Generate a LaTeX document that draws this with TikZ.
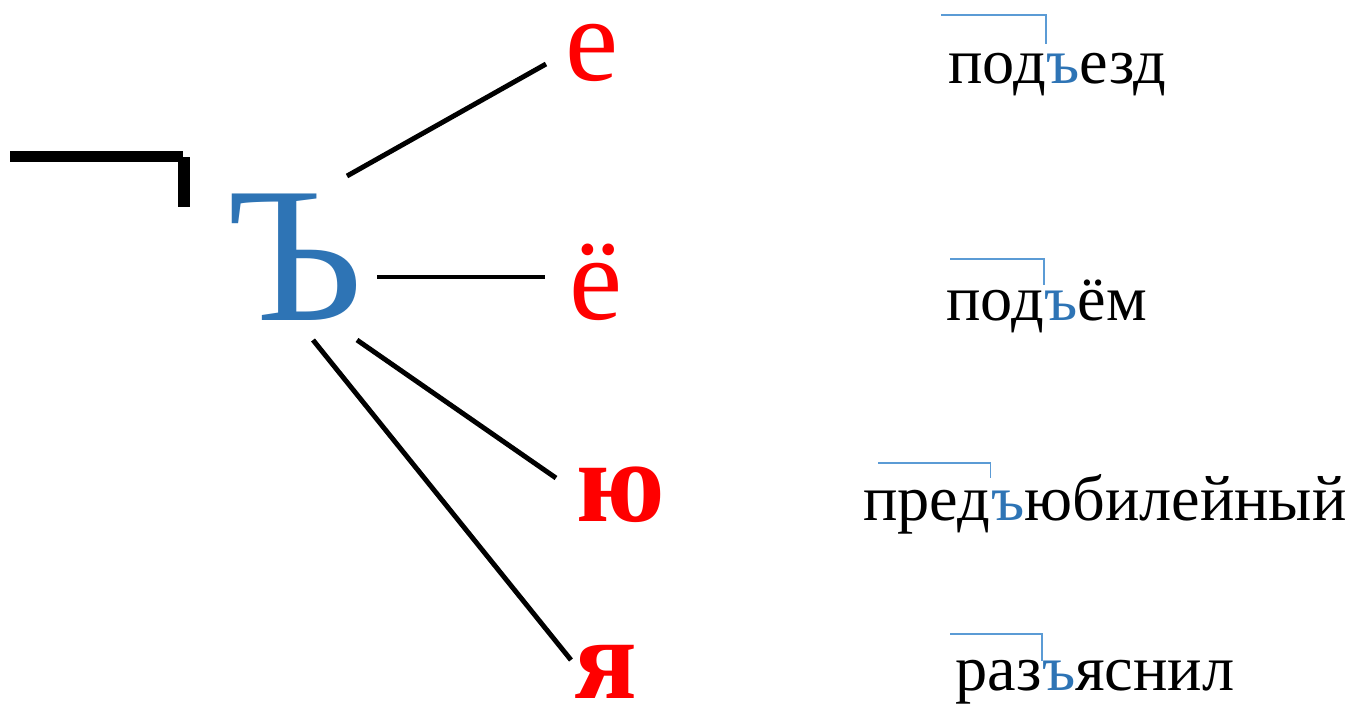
\documentclass[tikz,border=0pt]{standalone}
\usepackage{fontspec}
\setmainfont{Liberation Serif}
\usetikzlibrary{calc}
\definecolor{hardblue}{HTML}{2E74B5}
\definecolor{markblue}{HTML}{5B9BD5}
\definecolor{vowelred}{HTML}{FF0000}

\begin{document}
\begin{tikzpicture}[x=0.02cm, y=-0.02cm,
    bigsign/.style={text=hardblue, inner sep=0pt, anchor=base west, font=\fontsize{110}{110}\selectfont},
    vowel/.style={text=vowelred, inner sep=0pt, anchor=base west, font=\fontsize{68}{68}\selectfont},
    boldvowel/.style={vowel, font=\fontsize{66}{66}\selectfont\bfseries},
    word/.style={inner sep=0pt, anchor=base west, font=\fontsize{36.6}{37}\selectfont},
    link/.style={line width=2.8pt},
    prefixmark/.style={draw=markblue, line width=0.8pt}]
    \useasboundingbox (0,0) rectangle (1349,708);

    % corner sign
    \fill (10,151) rectangle (183,162);
    \fill (178,157) rectangle (190,207);

    % hard sign and the vowels after it
    \node[bigsign] (hard) at (226,320) {Ъ};
    \node[vowel] (ve) at (565,80) {е};
    \node[vowel] (vyo) at (569,319) {ё};
    \node[boldvowel] (vyu) at (576,521) {ю};
    \node[boldvowel] (vya) at (574,698) {я};

    \draw[link] ($(hard.base west)+(121,-144)$) -- ($(ve.base west)+(-19,-16)$);
    \draw[link] ($(hard.base west)+(151,-43)$) -- ($(vyo.base west)+(-24,-42)$);
    \draw[link] ($(hard.base west)+(131,20)$) -- ($(vyu.base west)+(-20,-43)$);
    \draw[link] ($(hard.base west)+(87,20)$) -- ($(vya.base west)+(-3,-38)$);

    % examples: prefix + rest of the word
    \node[word] (pre1) at (948,83) {под};
    \node[word] (rest1) at (pre1.base east) {\textcolor{hardblue}{ъ}езд};
    \node[word] (pre2) at (946,320) {под};
    \node[word] (rest2) at (pre2.base east) {\textcolor{hardblue}{ъ}ём};
    \node[word] (pre3) at (863,520) {пред};
    \node[word] (rest3) at (pre3.base east) {\textcolor{hardblue}{ъ}юбилейный};
    \node[word] (pre4) at (955,690) {раз};
    \node[word] (rest4) at (pre4.base east) {\textcolor{hardblue}{ъ}яснил};

    \draw[prefixmark] ($(pre1.base west)+(-7,-68)$) -| ($(pre1.base east)+(0,-39)$);
    \draw[prefixmark] ($(pre2.base west)+(4,-61)$) -| ($(pre2.base east)+(0,-35)$);
    \draw[prefixmark] ($(pre3.base west)+(15,-57)$) -| ($(pre3.base east)+(0,-42)$);
    \draw[prefixmark] ($(pre4.base west)+(-5,-56)$) -| ($(pre4.base east)+(0,-29)$);
\end{tikzpicture}
\end{document}
